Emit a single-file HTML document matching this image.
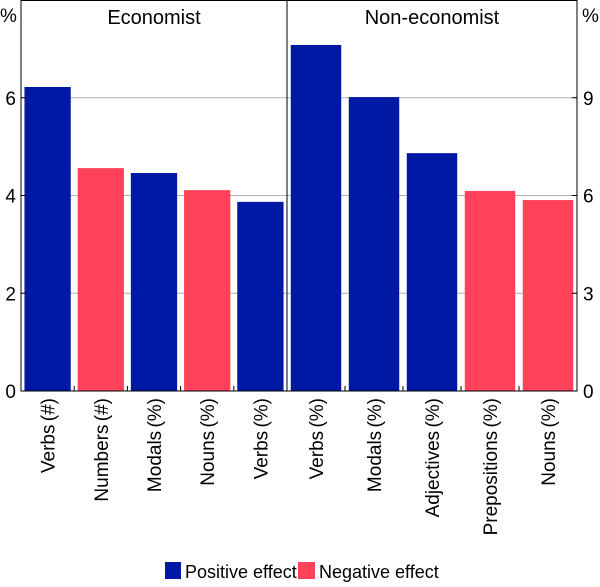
<!DOCTYPE html>
<html><head><meta charset="utf-8"><style>
body{margin:0;background:#fff;}
svg text{font-family:"Liberation Sans",Arial,sans-serif;fill:#000;}
</style></head><body>
<svg id="c" width="600" height="582" xmlns="http://www.w3.org/2000/svg"></svg>
<script>
const leftCats=["Verbs (#)","Numbers (#)","Modals (%)","Nouns (%)","Verbs (%)"];
const leftVals=[6.22,4.56,4.46,4.11,3.87];
const leftSign=["pos","neg","pos","neg","pos"];
const rightCats=["Verbs (%)","Modals (%)","Adjectives (%)","Prepositions (%)","Nouns (%)"];
const rightVals=[10.62,9.02,7.30,6.14,5.86];
const rightSign=["pos","pos","pos","neg","neg"];
const leftTicks=[0,2,4,6];
const rightTicks=[0,3,6,9];
const NS="http://www.w3.org/2000/svg";
const svg=document.getElementById('c');
const X0=21,X1=577,XM=287,Y0=391,YT=0;
const yL=v=>Y0-(v/8)*(Y0-YT);
const yR=v=>Y0-(v/12)*(Y0-YT);
const col={pos:"#0019a5",neg:"#ff4259"};
function el(t,a,p){const e=document.createElementNS(NS,t);for(const k in a)e.setAttribute(k,a[k]);(p||svg).appendChild(e);return e;}
leftTicks.forEach(t=>{if(t>0){const g=el('line',{x1:X0,x2:X1,y1:yL(t),y2:yL(t),stroke:'#b0b0b0','stroke-width':1});

}});
function panel(cats,vals,sign,x0,x1,ys,name){
 const slot=(x1-x0)/cats.length, w=slot*0.87;
 cats.forEach((c,i)=>{
  const cx=x0+slot*(i+0.5);
  const r=el('rect',{x:cx-w/2,y:ys(vals[i]),width:w,height:Y0-ys(vals[i]),fill:col[sign[i]]});
  
  
  const t=el('text',{x:0,y:0,'font-size':19,'word-spacing':-2,'text-anchor':'end',transform:`translate(${cx+7},398) rotate(-90)`});
  t.textContent=c;
  
  
  if(i>0){const tk=el('line',{x1:x0+slot*i,x2:x0+slot*i,y1:Y0,y2:Y0-5,stroke:'#000'});
  
  }
 });
}
panel(leftCats,leftVals,leftSign,X0,XM,yL,'economist');
panel(rightCats,rightVals,rightSign,XM,X1,yR,'non-economist');
const fr=el('rect',{x:X0,y:YT+0.5,width:X1-X0,height:Y0-YT-0.5,fill:'none',stroke:'#000','stroke-width':1});


const dv=el('line',{x1:XM,x2:XM,y1:YT,y2:Y0,stroke:'#000'});


leftTicks.forEach(t=>{const y=yL(t);
 const l=el('text',{x:16,y:y+7,'font-size':19,'text-anchor':'end'});l.textContent=t;
 
 
 el('line',{x1:X0,x2:X0+5,y1:y,y2:y,stroke:'#000'});
});
rightTicks.forEach(t=>{const y=yR(t);
 const l=el('text',{x:583,y:y+7,'font-size':19,'text-anchor':'start'});l.textContent=t;
 
 
 el('line',{x1:X1-5,x2:X1,y1:y,y2:y,stroke:'#000'});
});
function txt(x,y,s,anchor,name,fs){const t=el('text',{x:x,y:y,'font-size':fs||19,'text-anchor':anchor});t.textContent=s;
 
 return t;}
txt(0,22,'%','start','left-y-unit');
txt(582,22,'%','start','right-y-unit');
txt(154,24,'Economist','middle','panel-title-economist',20);
txt(432,24,'Non-economist','middle','panel-title-non-economist',20);
const lg=el('g',{});


el('rect',{x:165,y:562,width:16,height:17,fill:col.pos},lg);
el('text',{x:185,y:578,'font-size':18},lg).textContent='Positive effect';
el('rect',{x:298,y:562,width:17,height:17,fill:col.neg},lg);
el('text',{x:319,y:578,'font-size':18},lg).textContent='Negative effect';
</script>
</body></html>
